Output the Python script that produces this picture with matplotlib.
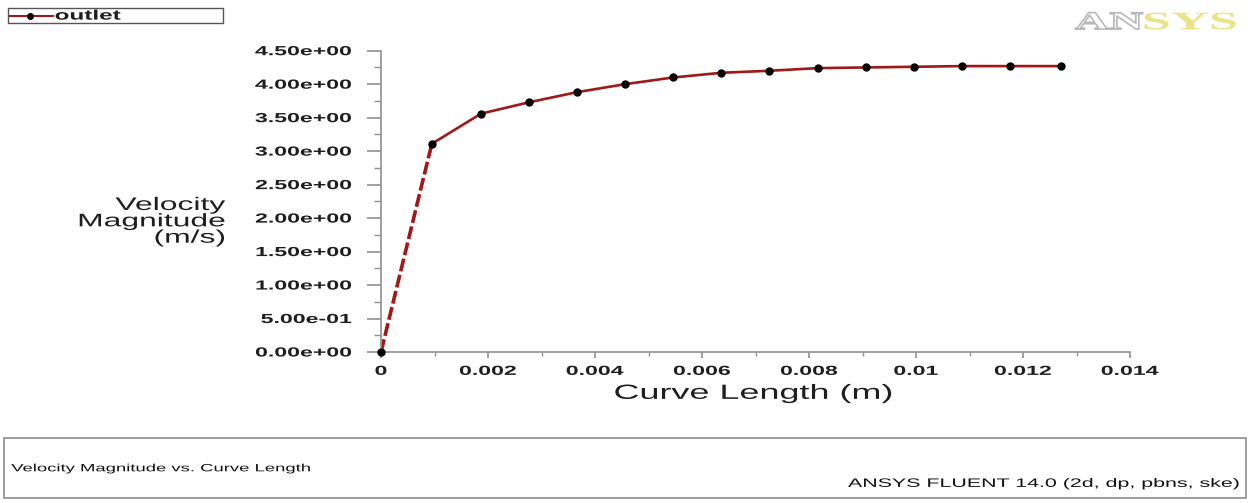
import matplotlib.pyplot as plt
from matplotlib.patches import Rectangle
from matplotlib.lines import Line2D
from matplotlib.ticker import MultipleLocator, FuncFormatter
from matplotlib.transforms import Affine2D
import matplotlib.patheffects as pe

# data
curve_length = [0, 0.00095, 0.00187, 0.00277, 0.00366, 0.00456, 0.00546, 0.00636,
                0.00725, 0.00817, 0.00907, 0.00996, 0.01086, 0.01176, 0.01271]
velocity = [0.0, 3.11, 3.56, 3.73, 3.88, 4.00, 4.10, 4.17,
            4.20, 4.24, 4.25, 4.26, 4.27, 4.27, 4.27]
x_ticks = [0, 0.002, 0.004, 0.006, 0.008, 0.01, 0.012, 0.014]
x_tick_labels = ["0", "0.002", "0.004", "0.006", "0.008", "0.01", "0.012", "0.014"]

plt.rcParams["font.family"] = ["Liberation Sans", "DejaVu Sans"]

line_color = "#a01818"
axis_color = "#909090"
text_color = "#1e1e1e"
SX = 1.75  # the original screenshot has horizontally stretched text


class Stretch(pe.AbstractPathEffect):
    """draw text paths widened in x around a chosen anchor"""
    def __init__(self, sx, anchor="center", edge=None, lw=1.0):
        super().__init__()
        self.sx = sx
        self.anchor = anchor
        self.edge = edge
        self.lw = lw

    def draw_path(self, renderer, gc, tpath, affine, rgbFace=None):
        ext = tpath.get_extents()
        if self.anchor == "left":
            x0 = ext.x0
        elif self.anchor == "right":
            x0 = ext.x1
        else:
            x0 = (ext.x0 + ext.x1) / 2
        tr = Affine2D().translate(-x0, 0).scale(self.sx, 1).translate(x0, 0) + affine
        if self.edge is not None:
            gc0 = renderer.new_gc()
            gc0.copy_properties(gc)
            gc0.set_foreground(self.edge)
            gc0.set_linewidth(self.lw)
            renderer.draw_path(gc0, tpath, tr, rgbFace)
            gc0.restore()
        else:
            renderer.draw_path(gc, tpath, tr, rgbFace)


fig = plt.figure(figsize=(12.5, 5.03), dpi=100)
ax = fig.add_axes([0.3048, 0.3002, 0.5992, 0.5990])

# first segment drawn dashed, the rest solid
ax.plot(curve_length[:2], velocity[:2], color=line_color, lw=2.6,
        dashes=(3.6, 1.0), zorder=2)
ax.plot(curve_length[1:], velocity[1:], color=line_color, lw=1.9, zorder=2)
ax.plot(curve_length, velocity, ls="none", marker="o", ms=5,
        color="black", zorder=3, clip_on=False)

ax.set_xlim(0, 0.014)
ax.set_ylim(0, 4.5)
ax.set_xticks(x_ticks)
ax.set_xticklabels(x_tick_labels)
ax.xaxis.set_minor_locator(MultipleLocator(0.001))
ax.yaxis.set_major_locator(MultipleLocator(0.5))
ax.yaxis.set_minor_locator(MultipleLocator(0.25))
ax.yaxis.set_major_formatter(FuncFormatter(lambda v, p: "%.2e" % v))

for side in ["top", "right"]:
    ax.spines[side].set_visible(False)
for side in ["left", "bottom"]:
    ax.spines[side].set_color(axis_color)
    ax.spines[side].set_linewidth(1.2)

ax.tick_params(axis="y", which="major", length=10, width=1.2, color=axis_color,
               labelsize=9.5, labelcolor=text_color, pad=11)
ax.tick_params(axis="y", which="minor", length=5, width=1, color=axis_color)
ax.tick_params(axis="x", which="major", length=4, width=1.2, color=axis_color,
               labelsize=9.5, labelcolor=text_color, pad=6)
ax.tick_params(axis="x", which="minor", length=3, width=1, color=axis_color)
for lab in ax.get_yticklabels():
    lab.set_fontweight("bold")
    lab.set_path_effects([Stretch(SX, "right")])
for lab in ax.get_xticklabels():
    lab.set_fontweight("bold")
    lab.set_path_effects([Stretch(SX, "center")])

fig.text(0.6024, 0.218, "Curve Length (m)", ha="center", va="center",
         fontsize=14.8, color=text_color, path_effects=[Stretch(SX, "center")])
fig.text(0.18, 0.559, "Velocity\nMagnitude\n(m/s)", ha="right", va="center",
         fontsize=13.1, color=text_color, linespacing=0.95,
         path_effects=[Stretch(SX, "right")])

# legend box top-left
fig.patches.append(Rectangle((0.0064, 0.954), 0.1718, 0.030, transform=fig.transFigure,
                             fill=False, ec="#555555", lw=1))
fig.lines.append(Line2D([0.008, 0.042], [0.969, 0.969], transform=fig.transFigure,
                        color=line_color, lw=1.5))
fig.lines.append(Line2D([0.024], [0.969], transform=fig.transFigure,
                        ls="none", marker="o", ms=4, color="black"))
fig.text(0.044, 0.969, "outlet", ha="left", va="center", fontsize=10,
         fontweight="bold", color=text_color, path_effects=[Stretch(SX, "left")])

# ANSYS logo
fig.text(0.860, 0.955, "AN", ha="left", va="center", fontsize=18,
         family="Liberation Serif", fontweight="bold", color="white",
         path_effects=[Stretch(1.9, "left", edge="#b8b8b8", lw=1.2)])
fig.text(0.9145, 0.955, "SYS", ha="left", va="center", fontsize=18,
         family="Liberation Serif", fontweight="bold", color="#ebe387",
         path_effects=[Stretch(2.1, "left")])

# bottom info box
fig.patches.append(Rectangle((0.003, 0.01), 0.994, 0.12, transform=fig.transFigure,
                             fill=False, ec="#8c8c8c", lw=1.2))
fig.text(0.009, 0.069, "Velocity Magnitude vs. Curve Length", ha="left",
         va="center", fontsize=7.6, color="#111111",
         path_effects=[Stretch(SX, "left")])
fig.text(0.992, 0.038, "ANSYS FLUENT 14.0 (2d, dp, pbns, ske)", ha="right",
         va="center", fontsize=8.8, color="#111111",
         path_effects=[Stretch(SX, "right")])

fig.savefig("out.png", dpi=100)
